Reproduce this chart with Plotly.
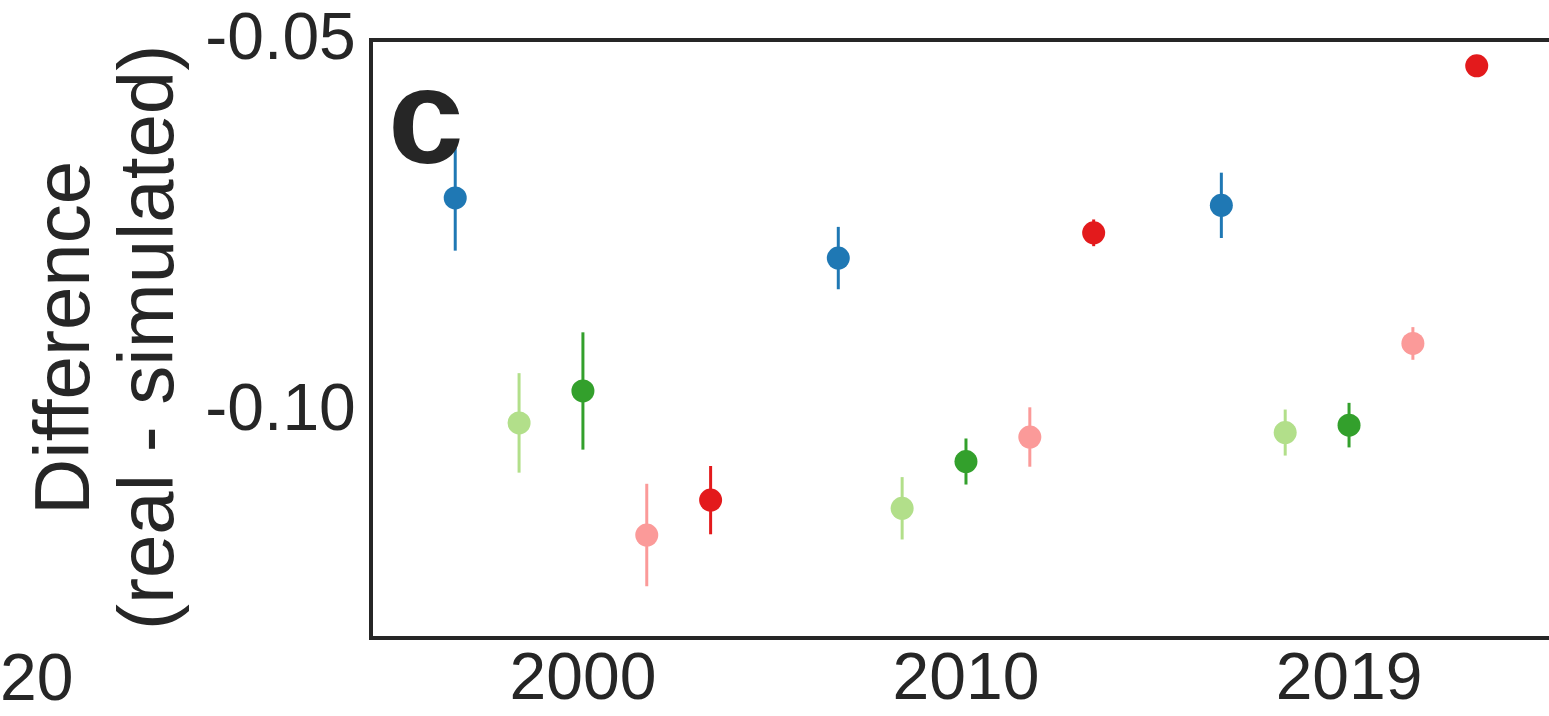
import numpy as np
import plotly.graph_objects as go

# Years on the categorical x axis
years = ["2000", "2010", "2019"]

# Mean difference (real - simulated) and CI half-width per series
blue_mean = [-0.0710, -0.0791, -0.0720]
blue_err = [0.0071, 0.0042, 0.0044]
lgreen_mean = [-0.1013, -0.1128, -0.1026]
lgreen_err = [0.0067, 0.0042, 0.0031]
green_mean = [-0.0970, -0.1065, -0.1016]
green_err = [0.0079, 0.0031, 0.0030]
pink_mean = [-0.1164, -0.1032, -0.0906]
pink_err = [0.0069, 0.0040, 0.0022]
red_mean = [-0.1117, -0.0757, -0.0532]
red_err = [0.0046, 0.0018, 0.0006]

series = [
    ("Series 1", blue_mean, blue_err, "#1f78b4"),
    ("Series 2", lgreen_mean, lgreen_err, "#b2df8a"),
    ("Series 3", green_mean, green_err, "#33a02c"),
    ("Series 4", pink_mean, pink_err, "#fb9a99"),
    ("Series 5", red_mean, red_err, "#e31a1c"),
]

FONT = "Liberation Sans, Arial, sans-serif"
INK = "#262626"

offsets = np.linspace(-1 / 3, 1 / 3, len(series))
base = np.arange(len(years))

fig = go.Figure()
for (name, mean, err, color), off in zip(series, offsets):
    fig.add_trace(go.Scatter(
        x=base + off,
        y=mean,
        mode="markers",
        name=name,
        marker=dict(size=23, color=color, line=dict(width=0)),
        error_y=dict(type="data", array=err, visible=True,
                     color=color, thickness=3, width=0),
        showlegend=False,
    ))

W, H = 1549, 716
L, R, T, B = 373, 0, 42, 80

fig.update_layout(
    width=W, height=H,
    margin=dict(l=L, r=R, t=T, b=B),
    paper_bgcolor="white",
    plot_bgcolor="white",
    font=dict(family=FONT, color=INK, size=66),
    xaxis=dict(
        range=[-0.548, 2.522],
        tickvals=list(base), ticktext=years,
        showgrid=False, zeroline=False,
        showline=True, mirror=True, linecolor=INK, linewidth=4,
        ticks="", ticklabelstandoff=-20, automargin=False,
        tickfont=dict(size=66, color=INK, family=FONT),
    ),
    yaxis=dict(
        range=[-0.13, -0.05],
        tickvals=[-0.10, -0.05], ticktext=["-0.10", "-0.05"],
        showgrid=False, zeroline=False,
        showline=True, mirror=False, linecolor=INK, linewidth=4,
        ticks="", ticklabelstandoff=0, ticklabelshift=-6,
        ticklabeloverflow="allow", automargin=False,
        tickfont=dict(size=66, color=INK, family=FONT),
    ),
)

pw = W - L - R
ph = H - T - B


def px_x(x):
    return (x - L) / pw


def px_y(y):
    return 1 - (y - T) / ph


# y-axis title, one annotation per line
for line, cx in (("Difference", 62), ("(real - simulated)", 146)):
    fig.add_annotation(
        text=line,
        xref="paper", yref="paper",
        x=px_x(cx), y=px_y(338),
        xanchor="center", yanchor="middle",
        textangle=-90, showarrow=False,
        font=dict(size=78, color=INK, family=FONT),
    )

# panel letter
fig.add_annotation(
    text="<b>c</b>",
    xref="paper", yref="paper",
    x=px_x(386), y=px_y(116),
    xanchor="left", yanchor="middle",
    showarrow=False,
    font=dict(size=136, color=INK, family=FONT),
)

# trailing tick label of the neighbouring panel
fig.add_annotation(
    text="20",
    xref="paper", yref="paper",
    x=px_x(-2), y=px_y(677),
    xanchor="left", yanchor="middle",
    showarrow=False,
    font=dict(size=66, color=INK, family=FONT),
)

fig.write_html("out.html")
